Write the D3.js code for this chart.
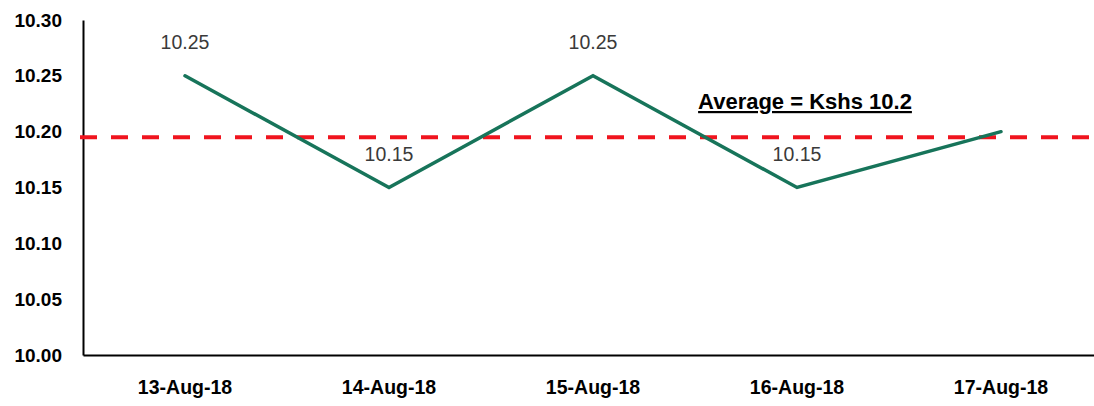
<!DOCTYPE html>
<html>
<head>
<meta charset="utf-8">
<script src="https://cdn.jsdelivr.net/npm/d3@7"></script>
<style>
  html, body { margin: 0; padding: 0; background: #fff; }
  svg { display: block; }
</style>
</head>
<body>
<svg id="chart" width="1094" height="406"></svg>
<script>
const categories = ["13-Aug-18", "14-Aug-18", "15-Aug-18", "16-Aug-18", "17-Aug-18"];
const rates = [10.25, 10.15, 10.25, 10.15, 10.20];
const dataLabels = ["10.25", "10.15", "10.25", "10.15", ""];
const yTicks = [10.00, 10.05, 10.10, 10.15, 10.20, 10.25, 10.30];
const averageLineValue = 10.195;
const averageText = "Average = Kshs 10.2";

(function () {
const svg = d3.select("#chart");
const mLeft = 83, mRight = 1103, mTop = 20, mBottom = 355;

const x = d3.scaleBand().domain(categories).range([mLeft, mRight]).padding(0);
const y = d3.scaleLinear().domain([10.00, 10.30]).range([mBottom, mTop]);

// Y axis
const yAxis = svg.append("g")
  .attr("transform", `translate(${mLeft},0)`)
  .call(d3.axisLeft(y).tickValues(yTicks).tickFormat(d3.format(".2f")).tickSize(0).tickPadding(21));
yAxis.select(".domain").attr("stroke", "#000").attr("stroke-width", 2);
yAxis.selectAll("text")
  .attr("font-family", "Liberation Sans, Arial, sans-serif")
  .attr("font-weight", "bold")
  .attr("font-size", 19)
  .attr("fill", "#000");

// X axis
const xAxis = svg.append("g")
  .attr("transform", `translate(0,${mBottom})`)
  .call(d3.axisBottom(x).tickSize(0).tickPadding(25));
xAxis.select(".domain").attr("stroke", "#000").attr("stroke-width", 2);
xAxis.selectAll("text")
  .attr("font-family", "Liberation Sans, Arial, sans-serif")
  .attr("font-weight", "bold")
  .attr("font-size", 19.5)
  .attr("fill", "#000");

// Average dashed line
svg.append("line")
  .attr("x1", mLeft - 3).attr("x2", 1094)
  .attr("y1", y(averageLineValue)).attr("y2", y(averageLineValue))
  .attr("stroke", "#f0141e")
  .attr("stroke-width", 4)
  .attr("stroke-dasharray", "17,14");

// Series line
const line = d3.line()
  .x((d, i) => x(categories[i]) + x.bandwidth() / 2)
  .y(d => y(d));
svg.append("path")
  .datum(rates)
  .attr("d", line)
  .attr("fill", "none")
  .attr("stroke", "#17745a")
  .attr("stroke-width", 3.5)
  .attr("stroke-linecap", "round")
  .attr("stroke-linejoin", "miter");

// Data labels
svg.selectAll(".dlabel")
  .data(rates)
  .enter().append("text")
  .attr("class", "dlabel")
  .attr("x", (d, i) => x(categories[i]) + x.bandwidth() / 2)
  .attr("y", d => y(d) - 27)
  .attr("text-anchor", "middle")
  .attr("font-family", "Liberation Sans, Arial, sans-serif")
  .attr("font-size", 19.5)
  .attr("fill", "#3a3a3a")
  .text((d, i) => dataLabels[i]);

// Average annotation
svg.append("text")
  .attr("x", 805)
  .attr("y", 109)
  .attr("text-anchor", "middle")
  .attr("font-family", "Liberation Sans, Arial, sans-serif")
  .attr("font-weight", "bold")
  .attr("font-size", 22)
  .attr("fill", "#000")
  .attr("text-decoration", "underline")
  .text(averageText);
})();
</script>
</body>
</html>
